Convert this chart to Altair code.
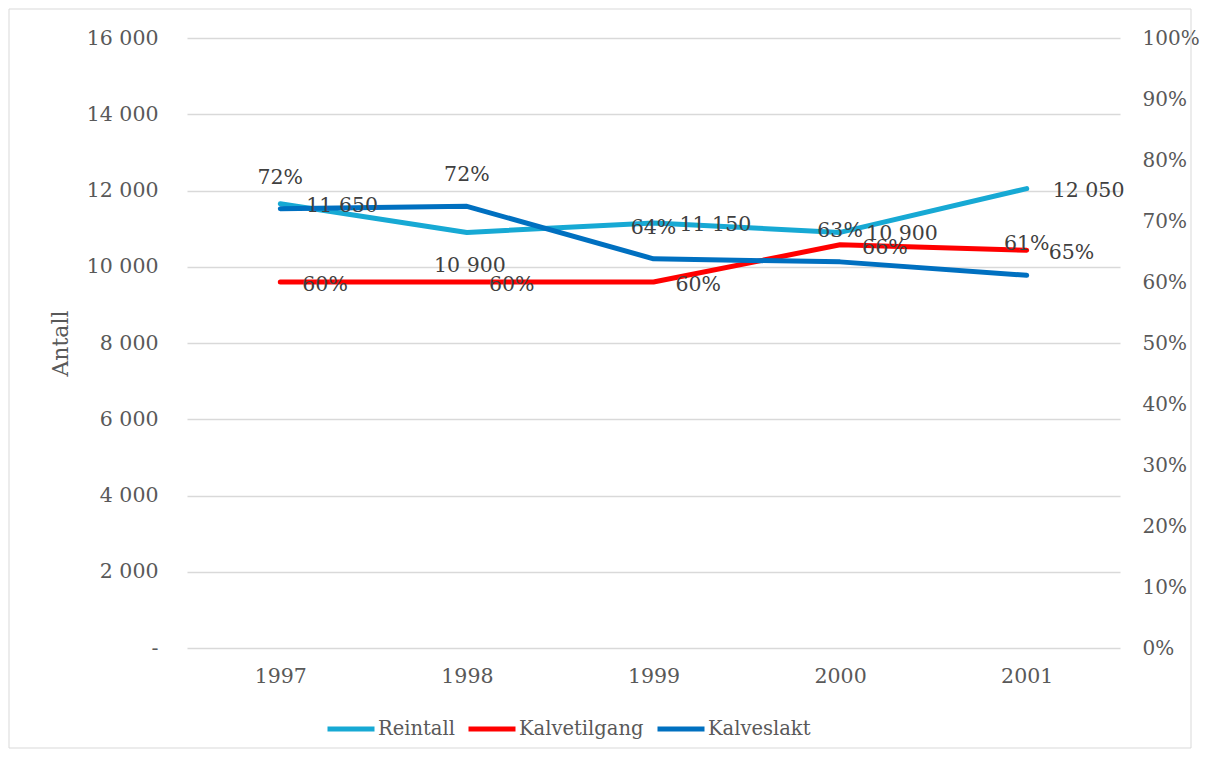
import altair as alt
import pandas as pd

years = ["1997", "1998", "1999", "2000", "2001"]
reintall = [11650, 10900, 11150, 10900, 12050]
kalvetilgang = [0.60, 0.60, 0.60, 0.661, 0.652]
kalveslakt = [0.72, 0.724, 0.638, 0.633, 0.611]
series_names = ["Reintall", "Kalvetilgang", "Kalveslakt"]
series_colors = ["#17A9D4", "#FF0000", "#0070C0"]
left_ticks = list(range(0, 16001, 2000))
right_ticks = [round(i / 10, 1) for i in range(11)]

FONT = "DejaVu Serif"
AX_COL = "#595959"
LBL_COL = "#404040"
TICK_FS = 20.5
LBL_FS = 20.5

rein_df = pd.DataFrame({"year": years, "value": reintall, "series": "Reintall"})
pct_df = pd.concat([
    pd.DataFrame({"year": years, "value": kalvetilgang, "series": "Kalvetilgang"}),
    pd.DataFrame({"year": years, "value": kalveslakt, "series": "Kalveslakt"}),
])

x = alt.X("year:O", scale=alt.Scale(type="point", padding=0.5),
          axis=alt.Axis(title=None, labelAngle=0, domain=False, ticks=False,
                        labelPadding=18, labelFontSize=TICK_FS, labelColor=AX_COL,
                        labelFont=FONT))

legend = alt.Legend(orient="none", legendX=138, legendY=665, direction="horizontal",
                    title=None, symbolType="stroke", symbolSize=2209,
                    symbolStrokeWidth=5, labelFontSize=19.5, labelFont=FONT,
                    labelColor=AX_COL, labelOffset=1, columnPadding=3, padding=0)
color = alt.Color("series:N", scale=alt.Scale(domain=series_names, range=series_colors),
                  legend=legend)

y_left = alt.Y("value:Q", scale=alt.Scale(domain=[0, 16000]),
               axis=alt.Axis(orient="left", values=left_ticks,
                             labelExpr="datum.value == 0 ? '-' : replace(format(datum.value, ','), ',', ' ')",
                             grid=True, gridColor="#D9D9D9", gridWidth=1.5,
                             domain=False, ticks=False, labelPadding=29,
                             labelFontSize=TICK_FS, labelFont=FONT, labelColor=AX_COL,
                             title="Antall", titleFont=FONT, titleFontSize=22,
                             titleFontWeight="normal", titleColor=AX_COL,
                             titleX=-127, titleY=305, titleBaseline="middle"))
y_left_na = alt.Y("value:Q", scale=alt.Scale(domain=[0, 16000]), axis=None)

y_right = alt.Y("value:Q", scale=alt.Scale(domain=[0, 1]),
                axis=alt.Axis(orient="right", values=right_ticks, format=".0%",
                              grid=False, domain=False, ticks=False, labelPadding=22,
                              labelFontSize=20, labelFont=FONT, labelColor=AX_COL,
                              title=None))
y_right_na = alt.Y("value:Q", scale=alt.Scale(domain=[0, 1]), axis=None)

line_rein = alt.Chart(rein_df).mark_line(strokeWidth=5, strokeCap="round",
                                         strokeJoin="round").encode(x=x, y=y_left, color=color)

lbl_expr = "replace(format(datum.value, ','), ',', ' ')"
text_rein = alt.Chart(rein_df).transform_filter("datum.year != '1998'").transform_calculate(
    label=lbl_expr).mark_text(align="left", dx=26, dy=2, fontSize=LBL_FS, font=FONT,
                              color=LBL_COL).encode(x=x, y=y_left_na, text="label:N")
text_rein98 = alt.Chart(rein_df).transform_filter("datum.year == '1998'").transform_calculate(
    label=lbl_expr).mark_text(align="center", dx=3, dy=34, fontSize=LBL_FS, font=FONT,
                              color=LBL_COL).encode(x=x, y=y_left_na, text="label:N")

line_pct = alt.Chart(pct_df).mark_line(strokeWidth=5, strokeCap="round",
                                       strokeJoin="round").encode(x=x, y=y_right, color=color)
text_red = alt.Chart(pct_df).transform_filter("datum.series == 'Kalvetilgang'").mark_text(
    align="left", dx=22, dy=3, fontSize=LBL_FS, font=FONT, color=LBL_COL).encode(
    x=x, y=y_right_na, text=alt.Text("value:Q", format=".0%"))
text_blue = alt.Chart(pct_df).transform_filter("datum.series == 'Kalveslakt'").mark_text(
    align="center", dy=-31, fontSize=LBL_FS, font=FONT, color=LBL_COL).encode(
    x=x, y=y_right_na, text=alt.Text("value:Q", format=".0%"))

border = alt.Chart(alt.Data(values=[{"a": 1}])).mark_rect(
    fillOpacity=0, stroke="#D9D9D9", strokeWidth=1).encode(
    x=alt.value(-178), x2=alt.value(1004), y=alt.value(-29), y2=alt.value(710))

chart = alt.layer(
    border, line_rein, line_pct, text_rein, text_rein98, text_red, text_blue
).resolve_scale(y="independent").properties(
    width=933, height=610,
    padding={"left": 0, "top": 0, "right": 0, "bottom": 0},
).configure_view(stroke=None)

chart.save("out.html", embed_options={"renderer": "svg", "actions": False})
